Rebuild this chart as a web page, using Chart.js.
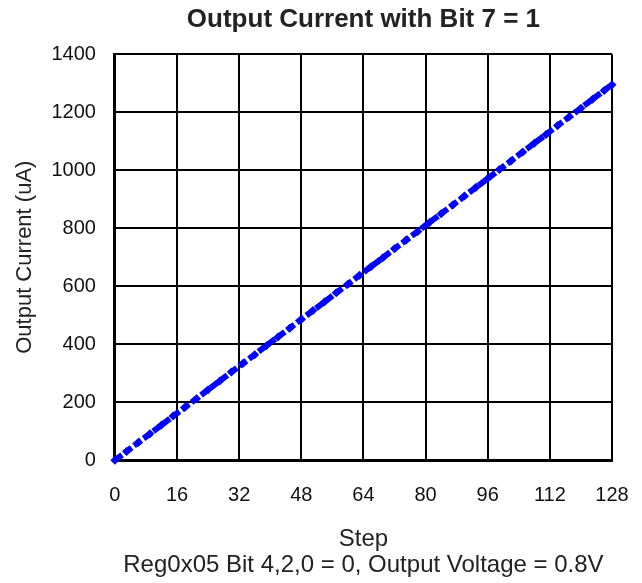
<!DOCTYPE html>
<html>
<head>
<meta charset="utf-8">
<script src="https://cdn.jsdelivr.net/npm/chart.js@4/dist/chart.umd.min.js"></script>
<style>
  html, body { margin: 0; padding: 0; background: #fff; }
  #wrap { width: 642px; height: 583px; }
</style>
</head>
<body>
<div id="wrap"><canvas id="myChart" width="642" height="583"></canvas></div>
<script>
const steps = [0, 3, 6, 9, 12, 15, 18, 21, 24, 27, 30, 33, 36, 39, 42, 45, 48, 51, 54, 57, 60,
  63, 66, 69, 72, 75, 78, 81, 84, 87, 90, 93, 96, 99, 102, 105, 108, 111, 114, 117, 120,
  123, 126, 128];
const currentUA = [0, 30, 61, 91, 121, 152, 182, 212, 243, 273, 304, 334, 364, 395, 425, 455,
  486, 516, 546, 577, 607, 638, 668, 698, 729, 759, 789, 820, 850, 880, 911, 941, 971, 1002,
  1032, 1063, 1093, 1123, 1154, 1184, 1214, 1245, 1275, 1295];
const xTicks = [0, 16, 32, 48, 64, 80, 96, 112, 128];
const yTicks = [0, 200, 400, 600, 800, 1000, 1200, 1400];

const font = "'Liberation Sans', Arial, sans-serif";
const ctx = document.getElementById("myChart");

const points = steps.map((s, i) => ({ x: s, y: currentUA[i] }));

new Chart(ctx, {
  type: "line",
  data: {
    datasets: [
      {
        label: "Output Current",
        data: points,
        borderColor: "#0000ff",
        backgroundColor: "#0000ff",
        borderWidth: 6,
        borderDash: [9, 3],
        pointStyle: "rectRot",
        pointRadius: 4.5,
        pointBorderWidth: 0,
        tension: 0,
        clip: false,
      },
    ],
  },
  options: {
    responsive: false,
    animation: false,
    layout: { padding: { left: 0, right: 30, top: 2, bottom: 4 } },
    plugins: {
      legend: { display: false },
      tooltip: { enabled: false },
      title: {
        display: true,
        fullSize: false,
        text: "Output Current with Bit 7 = 1",
        color: "#222",
        font: { family: font, size: 26, weight: "bold", lineHeight: 1.2 },
        padding: { top: 2, bottom: 19 },
      },
    },
    scales: {
      x: {
        type: "linear",
        min: 0,
        max: 128,
        afterBuildTicks: (axis) => {
          axis.ticks = xTicks.map((v) => ({ value: v }));
        },
        afterFit: (axis) => {
          axis.paddingRight = 0;
        },
        ticks: {
          color: "#111",
          padding: 23,
          font: { family: font, size: 20 },
          callback: (v) => String(v),
        },
        grid: { color: "#000", lineWidth: 2, drawTicks: false },
        border: { color: "#000", width: 3 },
        title: {
          display: true,
          text: ["Step", "Reg0x05 Bit 4,2,0 = 0, Output Voltage = 0.8V"],
          color: "#222",
          font: { family: font, size: 24, lineHeight: 1.1 },
          padding: { top: -4, bottom: 0 },
        },
      },
      y: {
        min: 0,
        max: 1400,
        afterBuildTicks: (axis) => {
          axis.ticks = yTicks.map((v) => ({ value: v }));
        },
        ticks: {
          color: "#111",
          padding: 19,
          font: { family: font, size: 20 },
          callback: (v) => String(v),
        },
        grid: { color: "#000", lineWidth: 2, drawTicks: false },
        border: { color: "#000", width: 3 },
        title: {
          display: true,
          text: "Output Current (uA)",
          color: "#222",
          font: { family: font, size: 22 },
          padding: { top: 12, bottom: -6 },
        },
      },
    },
  },
});
</script>
</body>
</html>
